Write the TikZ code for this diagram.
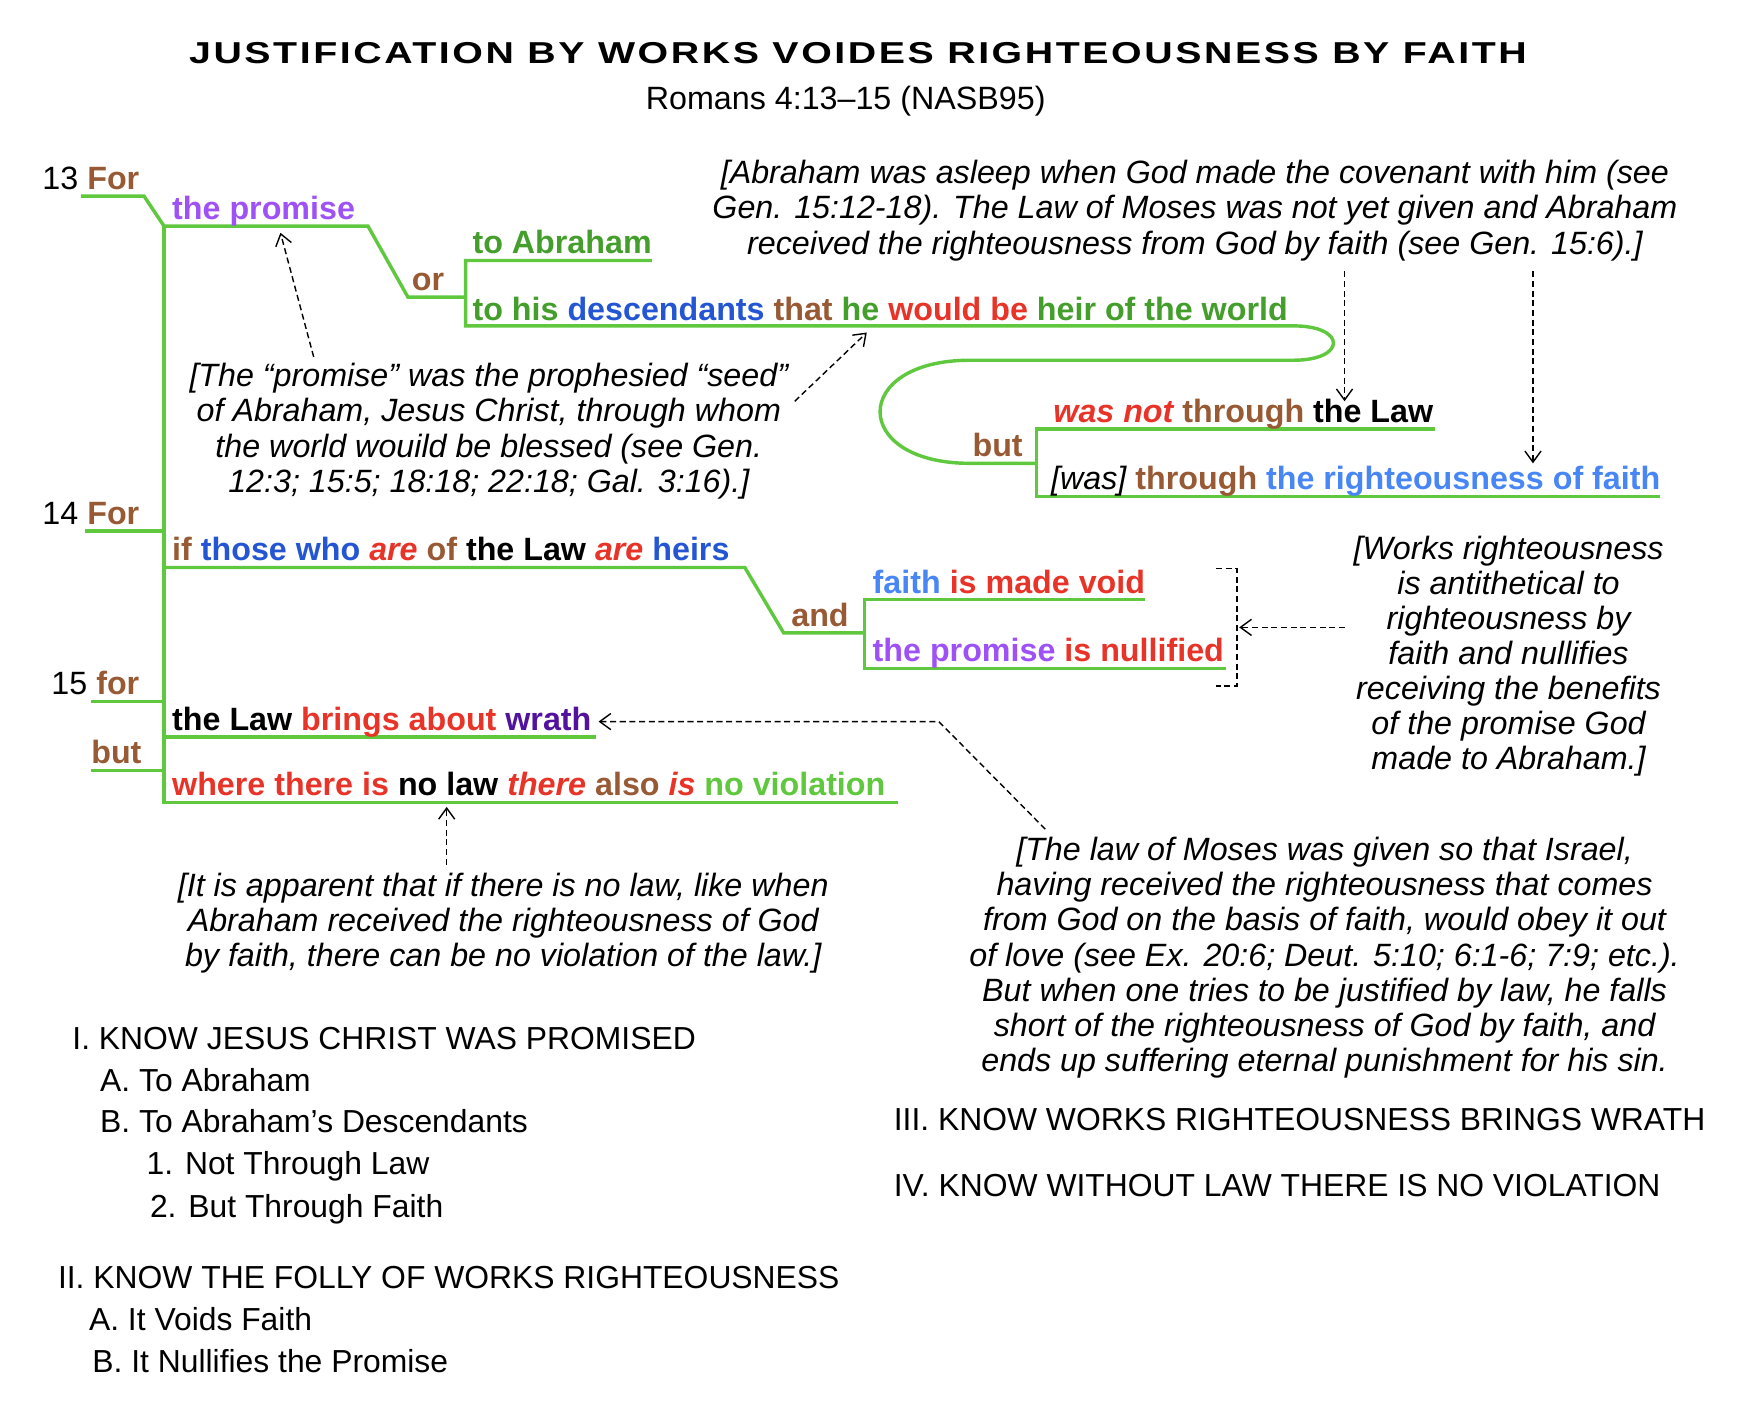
\documentclass[tikz,border=0pt]{standalone}
\usepackage{fontspec}
\setmainfont{Liberation Sans}
\newfontfamily\headfont[FakeStretch=1.3,LetterSpace=8.5]{Liberation Sans}
\definecolor{vgreen}{RGB}{96,200,62}
\definecolor{vdkgreen}{RGB}{68,158,44}
\definecolor{vbrown}{RGB}{152,90,52}
\definecolor{vpurple}{RGB}{158,82,245}
\definecolor{vblue}{RGB}{36,86,212}
\definecolor{vlblue}{RGB}{72,134,245}
\definecolor{vred}{RGB}{232,52,40}
\definecolor{vviolet}{RGB}{82,18,158}
\newcommand\wBrn[1]{\textcolor{vbrown}{#1}}
\newcommand\wPrp[1]{\textcolor{vpurple}{#1}}
\newcommand\wBlu[1]{\textcolor{vblue}{#1}}
\newcommand\wLbl[1]{\textcolor{vlblue}{#1}}
\newcommand\wRed[1]{\textcolor{vred}{#1}}
\newcommand\wGrn[1]{\textcolor{vgreen}{#1}}
\newcommand\wDgr[1]{\textcolor{vdkgreen}{#1}}
\newcommand\wVio[1]{\textcolor{vviolet}{#1}}
\usepackage{tikz}
\usetikzlibrary{arrows.meta}
\tikzset{
  verse/.style={anchor=base west,inner sep=0pt,font=\fontsize{16}{19}\selectfont\bfseries},
  versenum/.style={anchor=base east,inner sep=0pt,font=\fontsize{16}{19}\selectfont\bfseries},
  remark/.style={align=center,inner sep=0pt,font=\fontsize{16}{17.4}\selectfont\itshape},
  outl/.style={anchor=base west,inner sep=0pt,font=\fontsize{15.8}{19}\selectfont},
  branch/.style={draw=vgreen,line width=1.7pt},
  pointer/.style={draw=black,line width=0.7pt,dash pattern=on 3pt off 1.8pt,
    -{Straight Barb[length=5.5pt,width=8pt]}},
}

\begin{document}
\begin{tikzpicture}[x=0.55pt,y=-0.55pt]
  \useasboundingbox (0,0) rectangle (1568,1272);

  \node[font=\headfont\fontsize{15}{18}\selectfont\bfseries] (title) at (774,48)
    {JUSTIFICATION BY WORKS VOIDES RIGHTEOUSNESS BY FAITH};
  \node[font=\fontsize{16}{19}\selectfont] (ref) at (763,91) {Romans 4:13--15 (NASB95)};

  \coordinate (spineTop) at (148,204);
  \coordinate (spineEnd) at (148,724);
  \coordinate (orJoin) at (420,268);
  \coordinate (butJoin) at (935,418);
  \coordinate (andJoin) at (780,571);

  \draw[branch] (73,177) -- (130,177) -- (spineTop) -- (332,204) -- (368,268) -- (orJoin);
  \draw[branch] (spineTop) -- (spineEnd) -- (810,724);
  \draw[branch] (588,235) -- (420,235) -- (420,294) -- (1167,294)
    .. controls (1215,294) and (1215,325) .. (1167,325) -- (875,325)
    .. controls (767,325) and (767,418) .. (875,418) -- (butJoin);
  \draw[branch] (1295,387) -- (935,387) -- (935,448) -- (1498,448);
  \draw[branch] (77,479) -- (148,479);
  \draw[branch] (148,512) -- (672,512) -- (707,571) -- (andJoin);
  \draw[branch] (1033,541) -- (780,541) -- (780,603) -- (1106,603);
  \draw[branch] (82,633) -- (148,633);
  \draw[branch] (148,665) -- (538,665);
  \draw[branch] (82,695) -- (148,695);

  \node[versenum] (n13) at (126,171) {{\mdseries 13} \wBrn{For}};
  \node[verse] (promise) at (155,198) {\wPrp{the promise}};
  \node[versenum] (or) at (401,262) {\wBrn{or}};
  \node[verse] (abraham) at (426,229) {\wDgr{to Abraham}};
  \node[verse] (seed) at (426,289) {\wDgr{to his} \wBlu{descendants} \wBrn{that} \wDgr{he}
    \wRed{would be} \wDgr{heir of the world}};
  \node[versenum] (but1) at (923,412) {\wBrn{but}};
  \node[verse] (notlaw) at (950,381) {\wRed{\itshape was not} \wBrn{through} the Law};
  \node[verse] (byfaith) at (948,442) {{\mdseries\itshape [was]} \wBrn{through}
    \wLbl{the righteousness of faith}};

  \node[versenum] (n14) at (126,473) {{\mdseries 14} \wBrn{For}};
  \node[verse] (heirs) at (155,506) {\wBrn{if} \wBlu{those who} \wRed{\itshape are} \wBrn{of}
    the Law \wRed{\itshape are} \wBlu{heirs}};
  \node[versenum] (and) at (766,565) {\wBrn{and}};
  \node[verse] (void) at (787,535) {\wLbl{faith} \wRed{is made void}};
  \node[verse] (nullified) at (787,597) {\wPrp{the promise} \wRed{is nullified}};

  \node[versenum] (n15) at (126,627) {{\mdseries 15} \wBrn{for}};
  \node[verse] (wrath) at (155,659) {the Law \wRed{brings about} \wVio{wrath}};
  \node[versenum] (but2) at (128,689) {\wBrn{but}};
  \node[verse] (nolaw) at (155,718) {\wRed{where there is} no law \wRed{\itshape there}
    \wBrn{also} \wRed{\itshape is} \wGrn{no violation}};

  \node[remark] (noteA) at (1078,190) {[Abraham was asleep when God made the covenant with him (see\\
    Gen. 15:12-18). The Law of Moses was not yet given and Abraham\\
    received the righteousness from God by faith (see Gen. 15:6).]};
  \node[remark] (noteB) at (441,389) {[The “promise” was the prophesied “seed”\\
    of Abraham, Jesus Christ, through whom\\
    the world wouild be blessed (see Gen.\\
    12:3; 15:5; 18:18; 22:18; Gal. 3:16).]};
  \node[remark] (noteC) at (1361,592) {[Works righteousness\\ is antithetical to\\
    righteousness by\\ faith and nullifies\\ receiving the benefits\\
    of the promise God\\ made to Abraham.]};
  \node[remark] (noteD) at (454,833) {[It is apparent that if there is no law, like when\\
    Abraham received the righteousness of God\\
    by faith, there can be no violation of the law.]};
  \node[remark] (noteE) at (1195,864) {[The law of Moses was given so that Israel,\\
    having received the righteousness that comes\\
    from God on the basis of faith, would obey it out\\
    of love (see Ex. 20:6; Deut. 5:10; 6:1-6; 7:9; etc.).\\
    But when one tries to be justified by law, he falls\\
    short of the righteousness of God by faith, and\\
    ends up suffering eternal punishment for his sin.};

  \coordinate (tipPromise) at (253,210);
  \coordinate (tipWorld) at (782,300);
  \coordinate (tipLaw) at (1213,362);
  \coordinate (tipFaith) at (1383,418);
  \coordinate (tipVoid) at (1118,566);
  \coordinate (tipWrath) at (540,651);
  \coordinate (tipNoLaw) at (403,728);
  \coordinate (fromB1) at (283,322);
  \coordinate (fromB2) at (717,362);
  \coordinate (fromE) at (943,748);
  \coordinate (bendE) at (847,651);

  \draw[pointer] (fromB1) -- (tipPromise);
  \draw[pointer] (fromB2) -- (tipWorld);
  \draw[pointer,shorten <=5pt] (noteA.south -| tipLaw) -- (tipLaw);
  \draw[pointer,shorten <=5pt] (noteA.south -| tipFaith) -- (tipFaith);
  \draw[draw=black,line width=0.7pt,dash pattern=on 3pt off 1.8pt]
    (1097,513) -- (1116,513) -- (1116,619) -- (1097,619);
  \draw[pointer,shorten <=4pt] (noteC.west |- tipVoid) -- (tipVoid);
  \draw[pointer] (fromE) -- (bendE) -- (tipWrath);
  \draw[pointer,shorten <=4pt] (noteD.north -| tipNoLaw) -- (tipNoLaw);

  \node[outl] (o1) at (65,947) {I. KNOW JESUS CHRIST WAS PROMISED};
  \node[outl] (o1a) at (90,985) {A. To Abraham};
  \node[outl] (o1b) at (90,1022) {B. To Abraham’s Descendants};
  \node[outl] (o1b1) at (132,1060) {1. Not Through Law};
  \node[outl] (o1b2) at (135,1098) {2. But Through Faith};
  \node[outl] (o2) at (52,1162) {II. KNOW THE FOLLY OF WORKS RIGHTEOUSNESS};
  \node[outl] (o2a) at (80,1200) {A. It Voids Faith};
  \node[outl] (o2b) at (83,1238) {B. It Nullifies the Promise};
  \node[outl] (o3) at (806,1020) {III. KNOW WORKS RIGHTEOUSNESS BRINGS WRATH};
  \node[outl] (o4) at (806,1079) {IV. KNOW WITHOUT LAW THERE IS NO VIOLATION};
\end{tikzpicture}
\end{document}
